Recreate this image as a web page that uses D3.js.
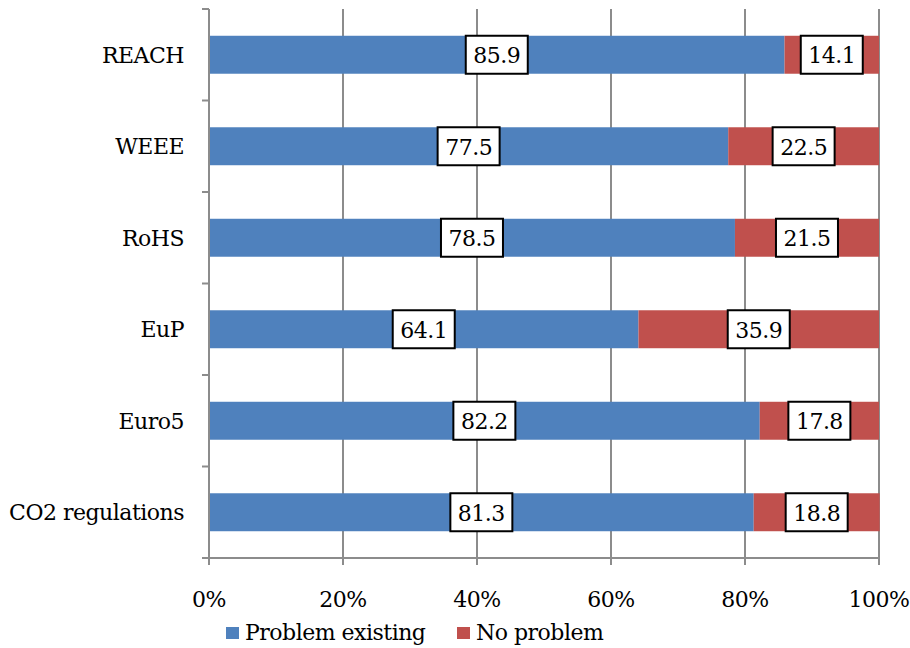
<!DOCTYPE html>
<html>
<head>
<meta charset="utf-8">
<script src="https://cdn.jsdelivr.net/npm/d3@7"></script>
<style>
  body { margin: 0; background: #fff; }
</style>
</head>
<body>
<div id="main"></div>
<script>
// data
var categories = ["REACH", "WEEE", "RoHS", "EuP", "Euro5", "CO2 regulations"];
var problemExisting = [85.9, 77.5, 78.5, 64.1, 82.2, 81.3];
var noProblem = [14.1, 22.5, 21.5, 35.9, 17.8, 18.8];
var seriesNames = ["Problem existing", "No problem"];
var seriesColors = ["#4F81BD", "#C0504D"];
var xTicks = [0, 20, 40, 60, 80, 100];

var FONT = "'DejaVu Serif', serif";

var W = 910, H = 648;
var margin = { top: 9, right: 31, bottom: 90, left: 209 };
var width = W - margin.left - margin.right,
  height = H - margin.top - margin.bottom;

var svg = d3.select("#main").append("svg")
  .attr("width", W)
  .attr("height", H)
  .attr("font-family", FONT)
  .attr("font-size", 22)
  .attr("letter-spacing", "-0.5px");

var g = svg.append("g")
  .attr("transform", "translate(" + margin.left + "," + margin.top + ")");

var x = d3.scaleLinear().domain([0, 100]).range([0, width]);
var y = d3.scaleBand().domain(categories).range([0, height])
  .paddingInner(0.585).paddingOuter(0.2925);

var rows = categories.map(function (c, i) {
  return { cat: c, vals: [problemExisting[i], noProblem[i]] };
});

// gridlines
g.selectAll(".grid")
  .data(xTicks.slice(1))
  .enter().append("line")
  .attr("x1", function (d) { return x(d); })
  .attr("x2", function (d) { return x(d); })
  .attr("y1", 0)
  .attr("y2", height)
  .attr("stroke", "#8c8c8c")
  .attr("stroke-width", 2);

// bars
rows.forEach(function (r) {
  var x0 = 0;
  r.vals.forEach(function (v, j) {
    var xs = x0;
    g.append("rect")
      .attr("x", x(xs))
      .attr("y", y(r.cat))
      .attr("width", x(xs + v) - x(xs))
      .attr("height", y.bandwidth())
      .attr("fill", seriesColors[j]);
    x0 += v;
  });
});

// axes
var yAxis = g.append("g");
yAxis.append("line")
  .attr("x1", 0).attr("x2", 0).attr("y1", 0).attr("y2", height)
  .attr("stroke", "#8c8c8c").attr("stroke-width", 2);
var bounds = d3.range(categories.length + 1).map(function (i) { return i * height / categories.length; });
yAxis.selectAll(".ytick").data(bounds).enter().append("line")
  .attr("x1", -7).attr("x2", 0)
  .attr("y1", function (d) { return d; }).attr("y2", function (d) { return d; })
  .attr("stroke", "#8c8c8c").attr("stroke-width", 2);
yAxis.selectAll(".ylab").data(categories).enter().append("text")
  .attr("x", -25)
  .attr("y", function (d) { return y(d) + y.bandwidth() / 2 + 8; })
  .attr("text-anchor", "end")
  .text(function (d) { return d; });

var xAxis = g.append("g").attr("transform", "translate(0," + height + ")");
xAxis.append("line")
  .attr("x1", -7).attr("x2", width).attr("y1", 0).attr("y2", 0)
  .attr("stroke", "#8c8c8c").attr("stroke-width", 2);
xAxis.selectAll(".xtick").data(xTicks).enter().append("line")
  .attr("x1", function (d) { return x(d); }).attr("x2", function (d) { return x(d); })
  .attr("y1", 0).attr("y2", 7)
  .attr("stroke", "#8c8c8c").attr("stroke-width", 2);
xAxis.selectAll(".xlab").data(xTicks).enter().append("text")
  .attr("x", function (d) { return x(d); })
  .attr("y", 49)
  .attr("text-anchor", "middle")
  .text(function (d) { return d + "%"; });

// data labels
rows.forEach(function (r) {
  var x0 = 0;
  r.vals.forEach(function (v) {
    var cx = x(x0 + v / 2), cy = y(r.cat) + y.bandwidth() / 2;
    var lab = g.append("g").attr("transform", "translate(" + cx + "," + cy + ")");
    lab.append("rect")
      .attr("x", -31).attr("y", -19).attr("width", 62).attr("height", 38)
      .attr("fill", "#fff").attr("stroke", "#000").attr("stroke-width", 2);
    lab.append("text")
      .attr("y", 8.5)
      .attr("text-anchor", "middle")
      .text(v.toFixed(1));
    x0 += v;
  });
});

// legend
var legend = svg.append("g").attr("transform", "translate(226,627)");
var legX = [0, 231];
seriesNames.forEach(function (s, i) {
  legend.append("rect")
    .attr("x", legX[i]).attr("y", 0).attr("width", 13).attr("height", 12)
    .attr("fill", seriesColors[i]);
  legend.append("text")
    .attr("x", legX[i] + 19).attr("y", 13)
    .text(s);
});
</script>
</body>
</html>
